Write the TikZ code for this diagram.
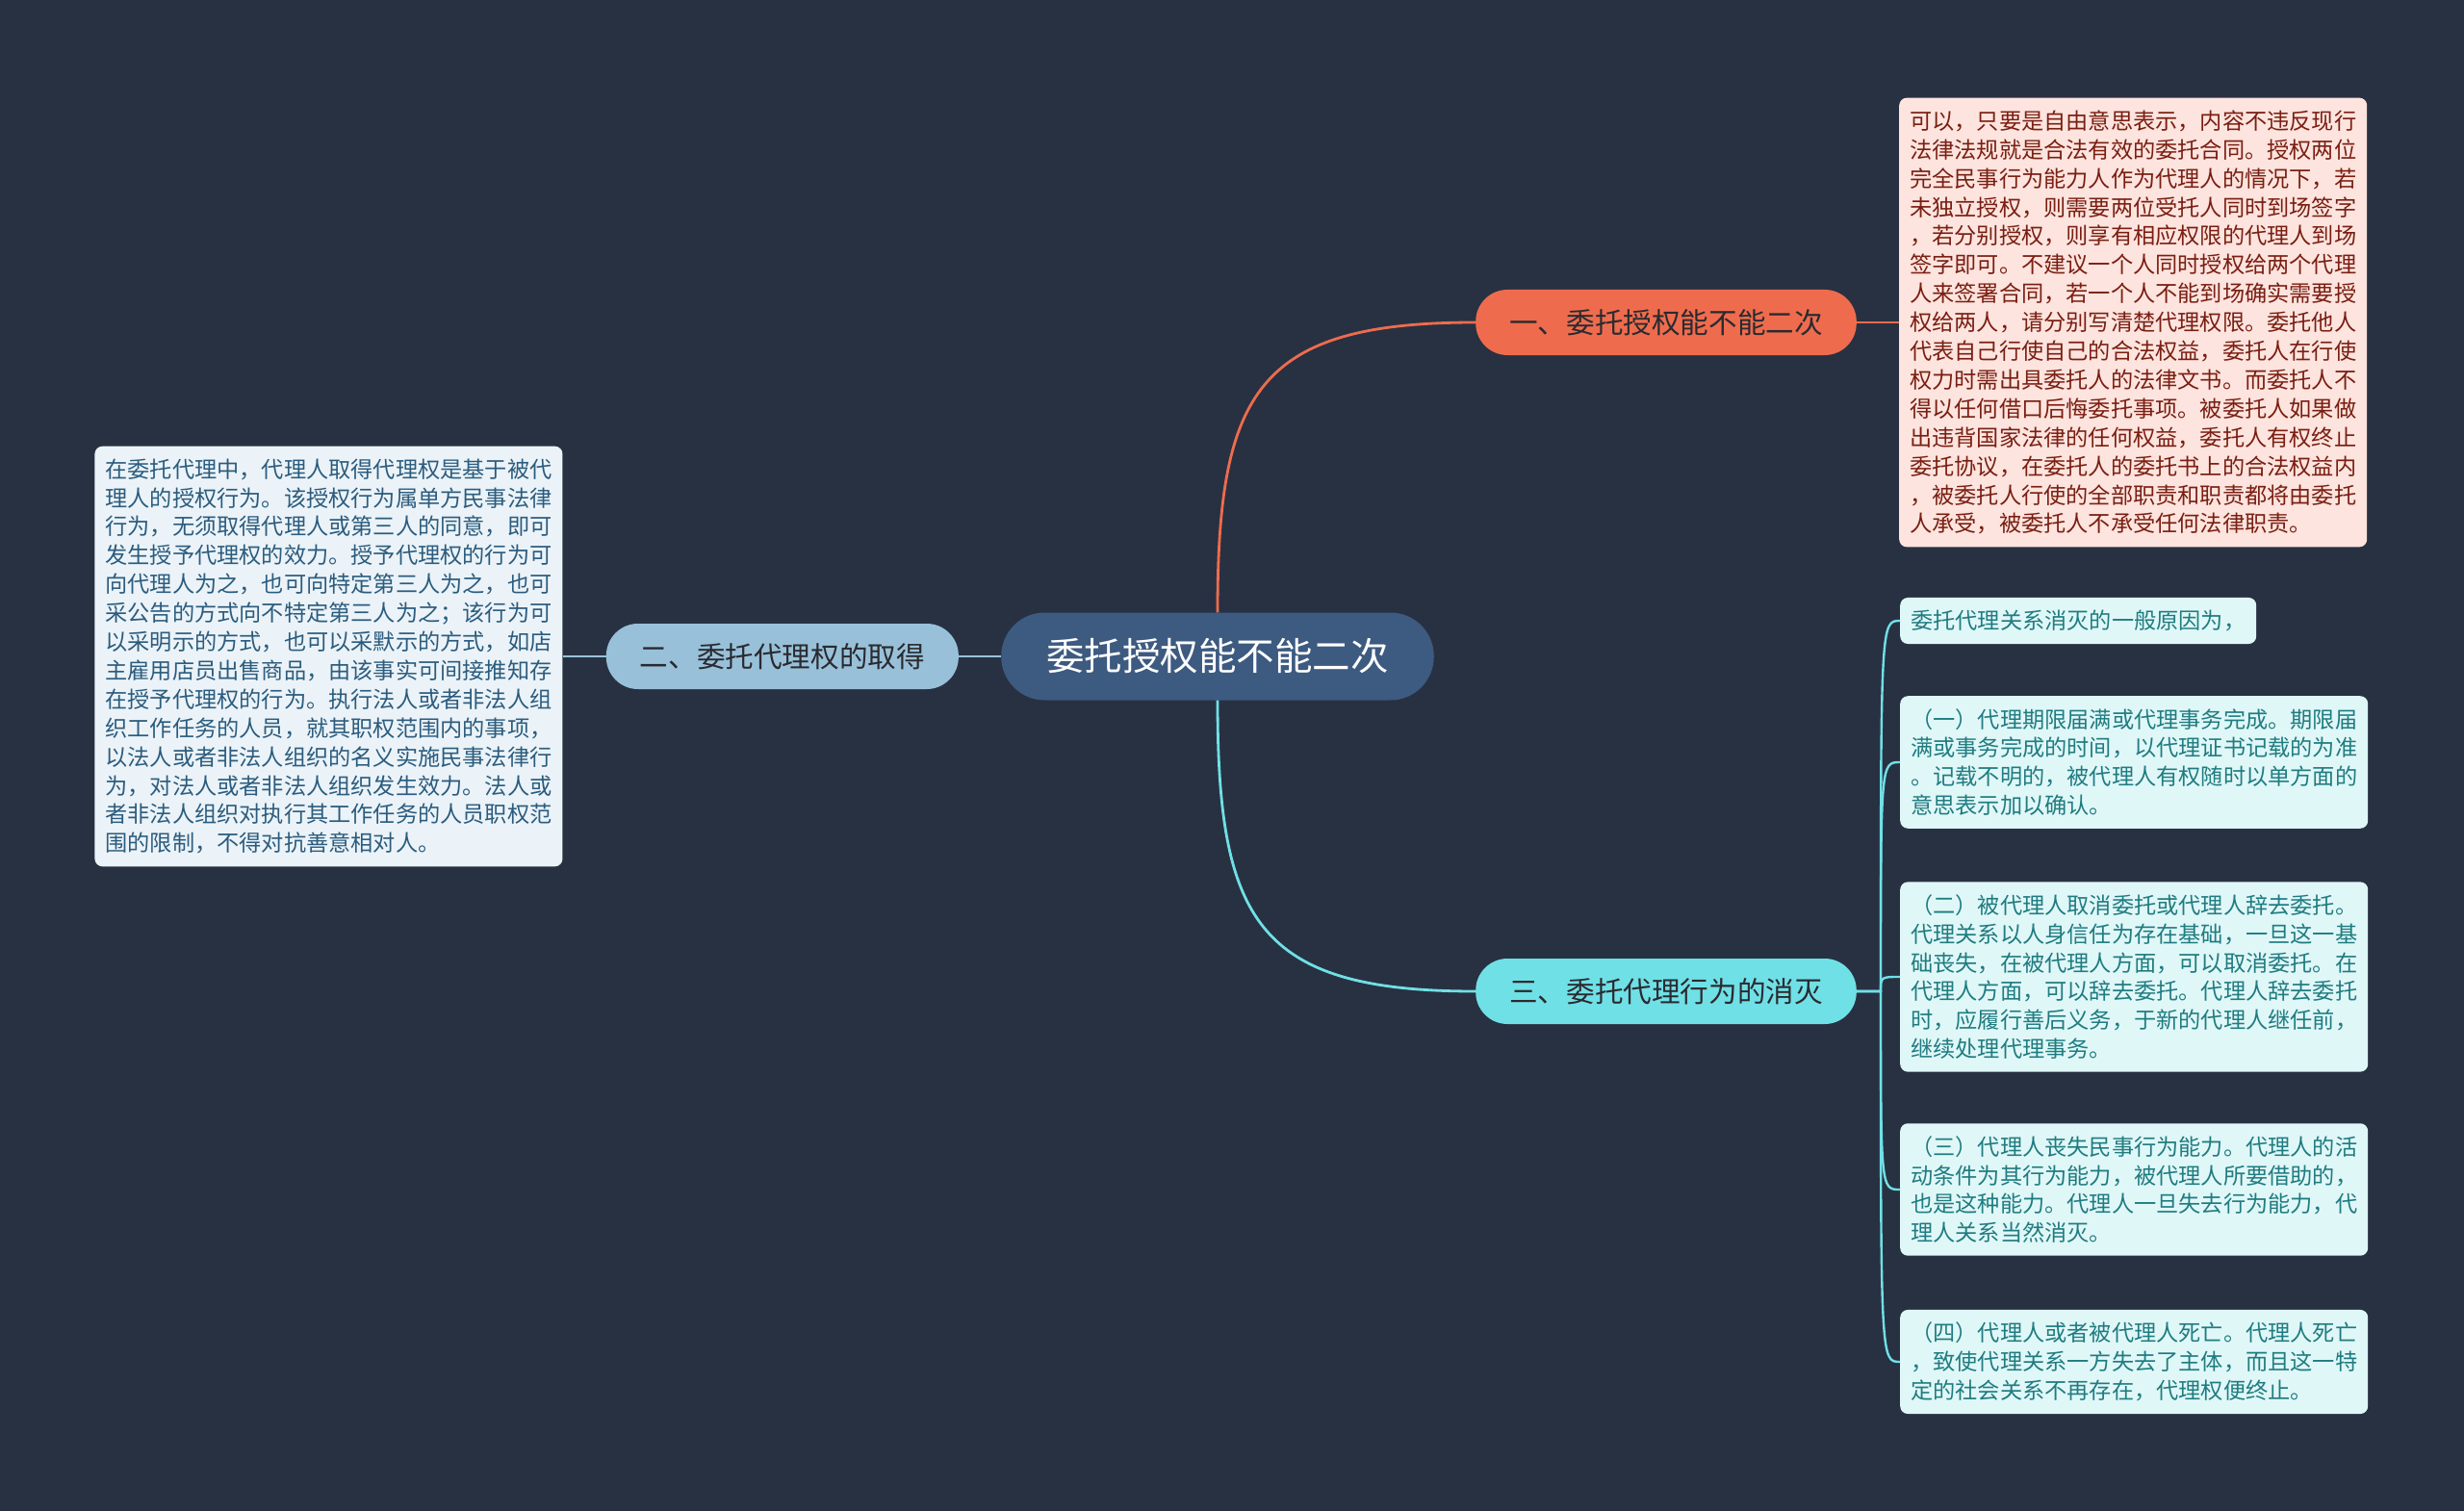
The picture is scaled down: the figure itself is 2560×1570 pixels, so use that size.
\documentclass[tikz,border=0pt]{standalone}
\usepackage{fontspec}
\setmainfont{Noto Sans CJK SC}
\usepackage{tikz}
\usetikzlibrary{positioning}
\definecolor{bgnavy}{HTML}{283142}
\definecolor{rootblue}{HTML}{3D5A80}
\definecolor{orng}{HTML}{EE6C4D}
\definecolor{skyb}{HTML}{98C1D9}
\definecolor{cyanb}{HTML}{6FE0E6}
\definecolor{pinkbg}{HTML}{FDE4DE}
\definecolor{pinktx}{HTML}{7A1E12}
\definecolor{palebg}{HTML}{EBF3F8}
\definecolor{paletx}{HTML}{2B5C7E}
\definecolor{aquabg}{HTML}{E0F7F8}
\definecolor{aquatx}{HTML}{1F7C80}
\definecolor{darktx}{HTML}{2A2A30}

\begin{document}
\begin{tikzpicture}[x=1pt,y=-1pt]
\tikzstyle{root}=[fill=rootblue,text=white,rounded corners=45pt,minimum height=91pt,inner xsep=47pt,font=\fontsize{39.5}{44}\selectfont]
\tikzstyle{br}=[rounded corners=33pt,minimum height=68pt,inner xsep=35pt,text=darktx,font=\fontsize{29.6}{34}\selectfont]
\tikzstyle{leaf}=[rounded corners=8pt,inner xsep=11pt,inner ysep=13pt,align=left,font=\fontsize{23.2}{29.9}\selectfont]
\tikzstyle{lk}=[line width=2.8pt]
\fill[bgnavy] (0,0) rectangle (2560,1570);
\useasboundingbox (0,0) rectangle (2560,1570);
\node[root] (ctr) at (1265,682) {委托授权能不能二次};
\node[br,fill=orng] (b1) at (1731,335) {一、委托授权能不能二次};
\node[br,fill=skyb,left=44pt of ctr] (b2) {二、委托代理权的取得};
\node[br,fill=cyanb] (b3) at (1731,1030) {三、委托代理行为的消灭};
\node[leaf,fill=pinkbg,text=pinktx,right=44pt of b1] (t1)
{可以，只要是自由意思表示，内容不违反现行\\
法律法规就是合法有效的委托合同。授权两位\\
完全民事行为能力人作为代理人的情况下，若\\
未独立授权，则需要两位受托人同时到场签字\\
，若分别授权，则享有相应权限的代理人到场\\
签字即可。不建议一个人同时授权给两个代理\\
人来签署合同，若一个人不能到场确实需要授\\
权给两人，请分别写清楚代理权限。委托他人\\
代表自己行使自己的合法权益，委托人在行使\\
权力时需出具委托人的法律文书。而委托人不\\
得以任何借口后悔委托事项。被委托人如果做\\
出违背国家法律的任何权益，委托人有权终止\\
委托协议，在委托人的委托书上的合法权益内\\
，被委托人行使的全部职责和职责都将由委托\\
人承受，被委托人不承受任何法律职责。};
\node[leaf,fill=palebg,text=paletx,left=45pt of b2] (t2)
{在委托代理中，代理人取得代理权是基于被代\\
理人的授权行为。该授权行为属单方民事法律\\
行为，无须取得代理人或第三人的同意，即可\\
发生授予代理权的效力。授予代理权的行为可\\
向代理人为之，也可向特定第三人为之，也可\\
采公告的方式向不特定第三人为之；该行为可\\
以采明示的方式，也可以采默示的方式，如店\\
主雇用店员出售商品，由该事实可间接推知存\\
在授予代理权的行为。执行法人或者非法人组\\
织工作任务的人员，就其职权范围内的事项，\\
以法人或者非法人组织的名义实施民事法律行\\
为，对法人或者非法人组织发生效力。法人或\\
者非法人组织对执行其工作任务的人员职权范\\
围的限制，不得对抗善意相对人。};
\node[leaf,fill=aquabg,text=aquatx,anchor=west] (l0) at (1974,645)
{委托代理关系消灭的一般原因为，};
\node[leaf,fill=aquabg,text=aquatx,anchor=west] (l1) at (1974,792)
{（一）代理期限届满或代理事务完成。期限届\\
满或事务完成的时间，以代理证书记载的为准\\
。记载不明的，被代理人有权随时以单方面的\\
意思表示加以确认。};
\node[leaf,fill=aquabg,text=aquatx,anchor=west] (l2) at (1974,1015)
{（二）被代理人取消委托或代理人辞去委托。\\
代理关系以人身信任为存在基础，一旦这一基\\
础丧失，在被代理人方面，可以取消委托。在\\
代理人方面，可以辞去委托。代理人辞去委托\\
时，应履行善后义务，于新的代理人继任前，\\
继续处理代理事务。};
\node[leaf,fill=aquabg,text=aquatx,anchor=west] (l3) at (1974,1236)
{（三）代理人丧失民事行为能力。代理人的活\\
动条件为其行为能力，被代理人所要借助的，\\
也是这种能力。代理人一旦失去行为能力，代\\
理人关系当然消灭。};
\node[leaf,fill=aquabg,text=aquatx,anchor=west] (l4) at (1974,1415)
{（四）代理人或者被代理人死亡。代理人死亡\\
，致使代理关系一方失去了主体，而且这一特\\
定的社会关系不再存在，代理权便终止。};
\draw[lk,orng] (ctr.north) .. controls +(0,-229) and +(-227,0) .. (b1.west);
\draw[lk,cyanb] (ctr.south) .. controls +(0,229) and +(-227,0) .. (b3.west);
\draw[lk,skyb] (ctr.west) -- (b2.east);
\draw[lk,skyb] (b2.west) -- (t2.east);
\draw[lk,orng] (b1.east) -- (t1.west);
\coordinate (sp) at ([xshift=25pt]b3.east);
\foreach \k in {l0,l1,l2,l3,l4}
  \draw[lk,cyanb,line width=2.4pt] (b3.east) -- (sp) .. controls (sp |- \k.west) .. (\k.west);
\end{tikzpicture}
\end{document}
